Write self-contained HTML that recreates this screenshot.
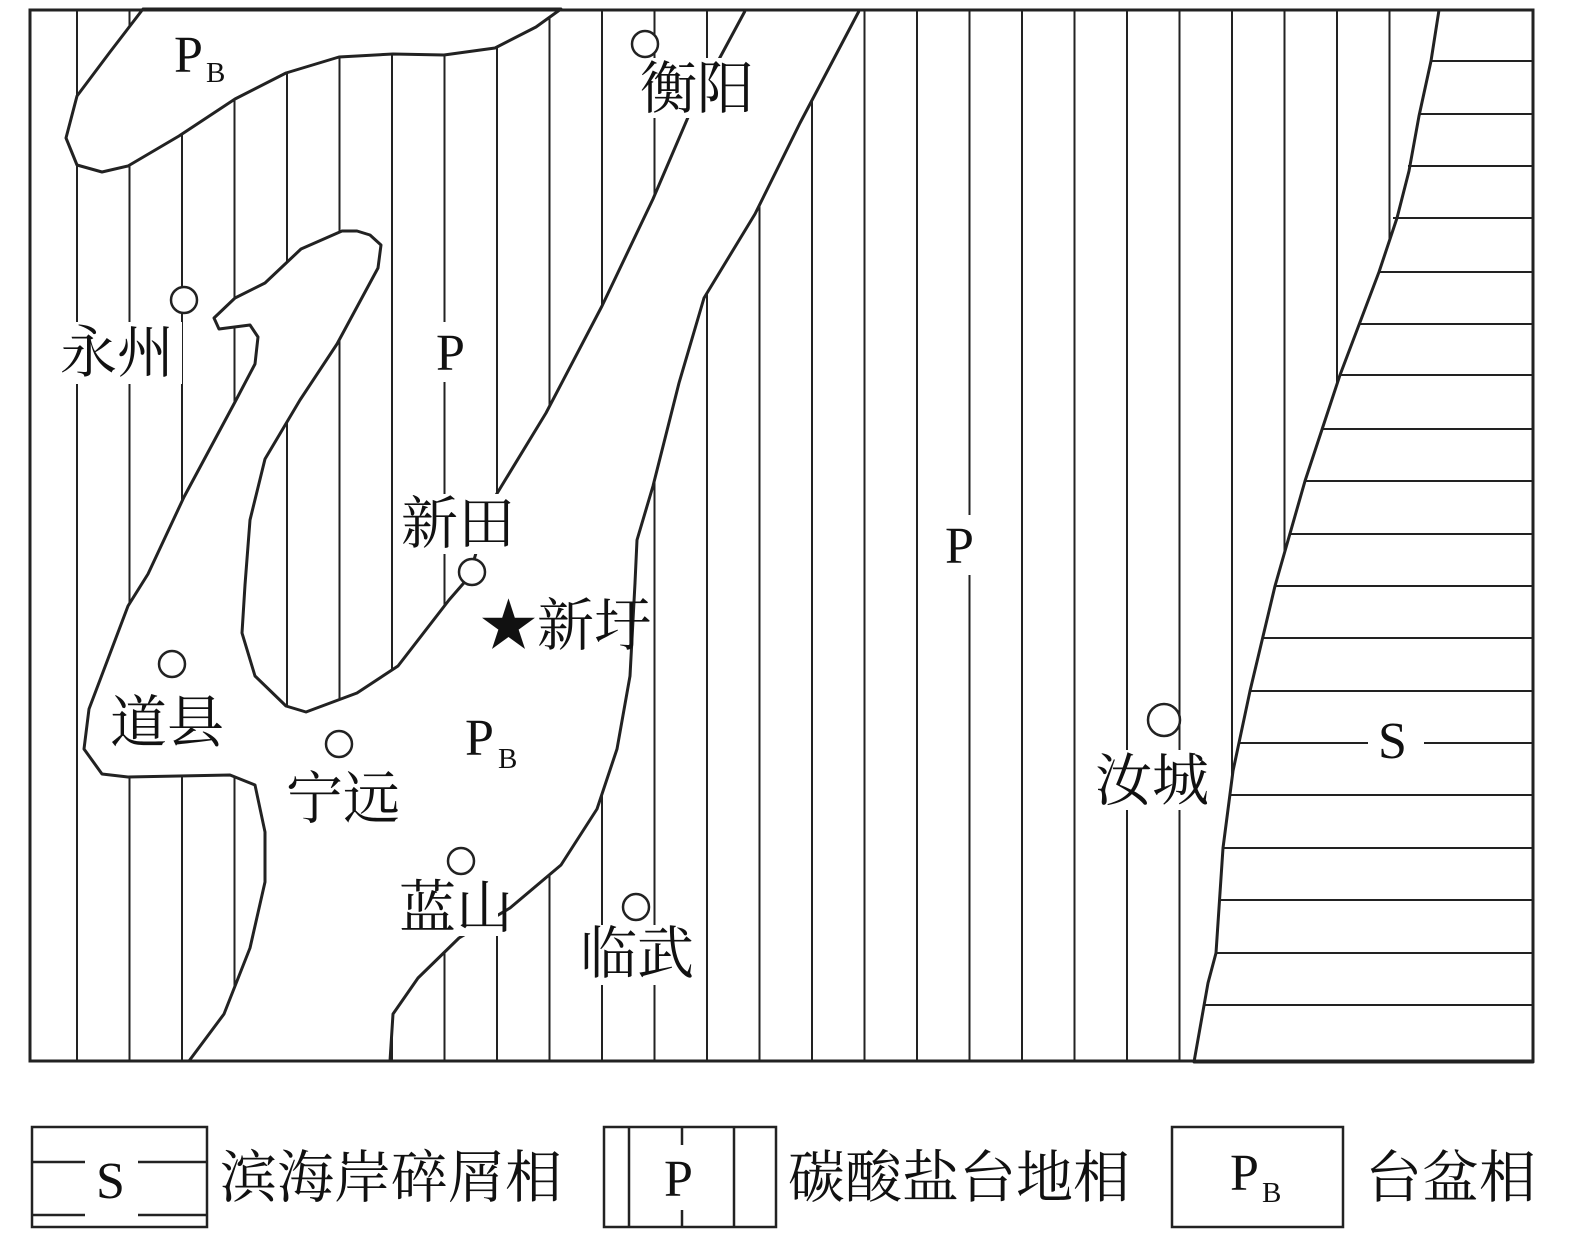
<!DOCTYPE html>
<html><head><meta charset="utf-8">
<style>
html,body{margin:0;padding:0;background:#fff;}
svg{display:block;}
.c{font-family:"Liberation Serif","Noto Serif CJK SC",serif;font-size:57px;fill:#111;}
.l{font-family:"Liberation Serif",serif;font-size:52px;fill:#111;}
.s{font-family:"Liberation Serif",serif;font-size:29px;fill:#111;}
</style></head><body>
<svg width="1575" height="1240" viewBox="0 0 1575 1240" xmlns="http://www.w3.org/2000/svg">
<rect width="1575" height="1240" fill="#fff"/>
<g stroke="#222" stroke-width="2">
<line x1="77" y1="10" x2="77" y2="1060"/><line x1="129.5" y1="10" x2="129.5" y2="1060"/><line x1="182" y1="10" x2="182" y2="1060"/><line x1="234.5" y1="10" x2="234.5" y2="1060"/><line x1="287" y1="10" x2="287" y2="1060"/><line x1="339.5" y1="10" x2="339.5" y2="1060"/><line x1="392" y1="10" x2="392" y2="1060"/><line x1="444.5" y1="10" x2="444.5" y2="1060"/><line x1="497" y1="10" x2="497" y2="1060"/><line x1="549.5" y1="10" x2="549.5" y2="1060"/><line x1="602" y1="10" x2="602" y2="1060"/><line x1="654.5" y1="10" x2="654.5" y2="1060"/><line x1="707" y1="10" x2="707" y2="1060"/><line x1="759.5" y1="10" x2="759.5" y2="1060"/><line x1="812" y1="10" x2="812" y2="1060"/><line x1="864.5" y1="10" x2="864.5" y2="1060"/><line x1="917" y1="10" x2="917" y2="1060"/><line x1="969.5" y1="10" x2="969.5" y2="1060"/><line x1="1022" y1="10" x2="1022" y2="1060"/><line x1="1074.5" y1="10" x2="1074.5" y2="1060"/><line x1="1127" y1="10" x2="1127" y2="1060"/><line x1="1179.5" y1="10" x2="1179.5" y2="1060"/><line x1="1232" y1="10" x2="1232" y2="1060"/><line x1="1284.5" y1="10" x2="1284.5" y2="1060"/><line x1="1337" y1="10" x2="1337" y2="1060"/><line x1="1389.5" y1="10" x2="1389.5" y2="1060"/><line x1="1442" y1="10" x2="1442" y2="1060"/><line x1="1494.5" y1="10" x2="1494.5" y2="1060"/>
</g>
<polygon points="1439,10 1431,61 1419,116 1409,171 1397,218 1379,272 1340,375 1305,481 1275,586 1250,691 1233,771 1223,848 1216,953 1208,983 1194,1062 1533,1062 1533,10" fill="#fff" stroke="#222" stroke-width="3" stroke-linejoin="round"/>
<g stroke="#222" stroke-width="2">
<line x1="1431" y1="61" x2="1533" y2="61"/><line x1="1419" y1="114" x2="1533" y2="114"/><line x1="1408" y1="166" x2="1533" y2="166"/><line x1="1393" y1="218" x2="1533" y2="218"/><line x1="1379" y1="272" x2="1533" y2="272"/><line x1="1359" y1="324" x2="1533" y2="324"/><line x1="1340" y1="375" x2="1533" y2="375"/><line x1="1322" y1="429" x2="1533" y2="429"/><line x1="1305" y1="481" x2="1533" y2="481"/><line x1="1290" y1="534" x2="1533" y2="534"/><line x1="1275" y1="586" x2="1533" y2="586"/><line x1="1262" y1="638" x2="1533" y2="638"/><line x1="1250" y1="691" x2="1533" y2="691"/><line x1="1239" y1="743" x2="1368" y2="743"/><line x1="1424" y1="743" x2="1533" y2="743"/><line x1="1230" y1="795" x2="1533" y2="795"/><line x1="1223" y1="848" x2="1533" y2="848"/><line x1="1219" y1="900" x2="1533" y2="900"/><line x1="1216" y1="953" x2="1533" y2="953"/><line x1="1204" y1="1005" x2="1533" y2="1005"/>
</g>
<polygon points="143,9 110,52 77,96 66,138 77,165 102,172 128,166 179,136 235,99 286,73 339,57 393,54 444,55 495,48 536,27 561,9" fill="#fff" stroke="#222" stroke-width="3" stroke-linejoin="round"/>
<polyline points="745,11 689,115 653,199 602,306 546,413 490,505 469,577 449,600 398,666 357,693 306,712 286,706 255,676 242,633 245,585 250,520 265,459 300,400 337,344 378,268 381,245 370,235 357,231 342,231 301,249 265,283 235,298 214,318 219,329 250,325 258,337 255,364 235,402 184,497 148,574 128,606 100,680 89,709 84,749 102,774 128,777 230,775 255,785 265,832 265,882 250,948 224,1014 189,1061 390,1061 393,1014 418,978 459,938 510,908 561,865 597,809 617,749 630,676 635,583 637,540 653,486 679,383 704,298 755,214 800,123 859,11" fill="#fff" stroke="#222" stroke-width="3" stroke-linejoin="round"/>
<rect x="30" y="10" width="1503" height="1051" fill="none" stroke="#222" stroke-width="3"/>
<g fill="#fff">
<rect x="428" y="322" width="50" height="60"/><rect x="940" y="515" width="48" height="60"/>
<rect x="58" y="322" width="124" height="62"/><rect x="638" y="58" width="124" height="60"/>
<rect x="398" y="494" width="122" height="60"/><rect x="580" y="925" width="120" height="60"/>
<rect x="1093" y="750" width="122" height="60"/><rect x="398" y="878" width="100" height="58"/>
</g>
<g fill="#fff" stroke="#222" stroke-width="2.5">
<circle cx="645" cy="44" r="13"/><circle cx="184" cy="300" r="13"/><circle cx="472" cy="572" r="13"/><circle cx="172" cy="664" r="13"/><circle cx="339" cy="744" r="13"/><circle cx="461" cy="861" r="13"/><circle cx="636" cy="907" r="13"/><circle cx="1164" cy="720" r="16"/>
</g>
<text class="l" x="174" y="72">P</text><text class="s" x="206" y="82">B</text>
<text class="l" x="436" y="370">P</text>
<text class="l" x="945" y="563">P</text>
<text class="l" x="465" y="755">P</text><text class="s" x="498" y="768">B</text>
<text class="l" x="1378" y="758">S</text>
<text class="c" x="640" y="108">衡阳</text>
<text class="c" x="60" y="372">永州</text>
<text class="c" x="401" y="543">新田</text>
<text class="c" x="480" y="645">★新圩</text>
<text class="c" x="110" y="742">道县</text>
<text class="c" x="286" y="818">宁远</text>
<text class="c" x="399" y="927">蓝山</text>
<text class="c" x="580" y="973">临武</text>
<text class="c" x="1095" y="800">汝城</text>
<g stroke="#222" stroke-width="2.5" fill="none">
<rect x="32" y="1127" width="175" height="100"/>
<line x1="32" y1="1162" x2="85" y2="1162"/><line x1="138" y1="1162" x2="207" y2="1162"/>
<line x1="32" y1="1215" x2="85" y2="1215"/><line x1="138" y1="1215" x2="207" y2="1215"/>
<rect x="604" y="1127" width="172" height="100"/>
<line x1="629" y1="1127" x2="629" y2="1227"/><line x1="734" y1="1127" x2="734" y2="1227"/>
<line x1="682" y1="1127" x2="682" y2="1145"/><line x1="682" y1="1210" x2="682" y2="1227"/>
<rect x="1172" y="1127" width="171" height="100"/>
</g>
<text class="l" x="96" y="1198">S</text>
<text class="l" x="664" y="1196">P</text>
<text class="l" x="1230" y="1190">P</text><text class="s" x="1262" y="1202">B</text>
<text class="c" x="220" y="1197">滨海岸碎屑相</text>
<text class="c" x="788" y="1197">碳酸盐台地相</text>
<text class="c" x="1365" y="1197">台盆相</text>
</svg>
</body></html>
